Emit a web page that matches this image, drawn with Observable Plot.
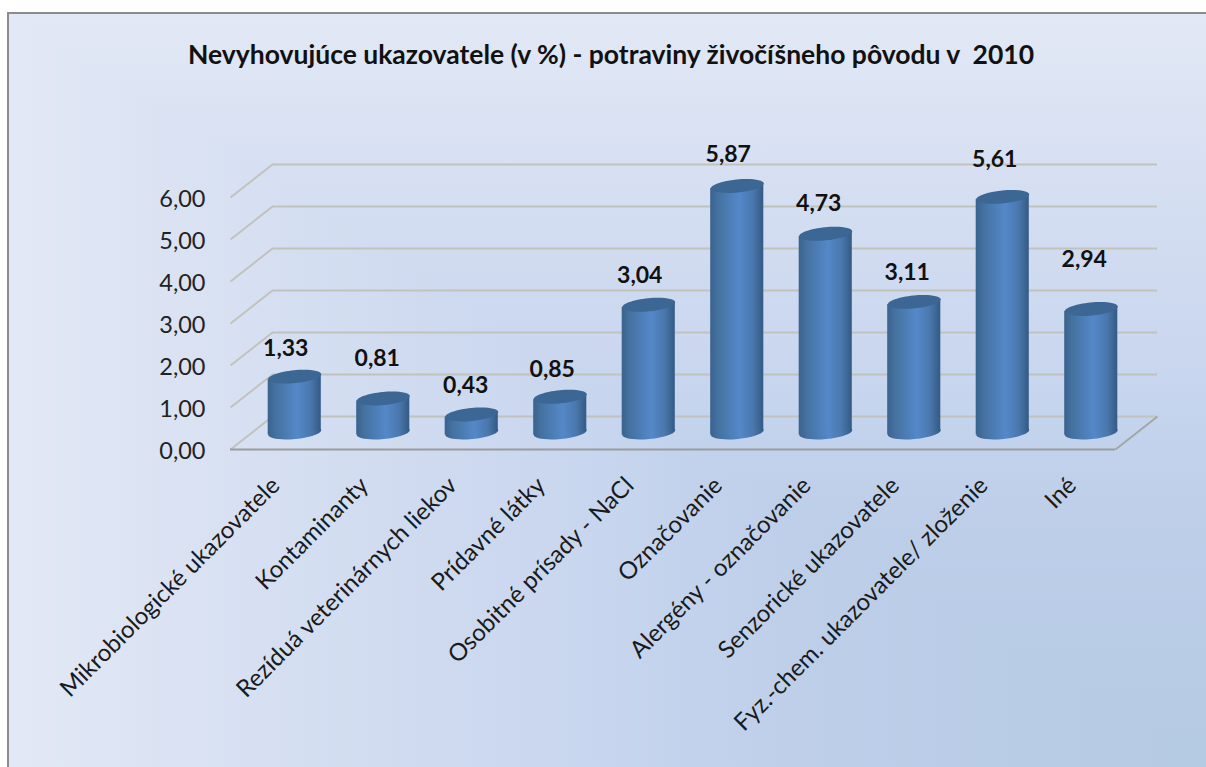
<!DOCTYPE html>
<html lang="sk">
<head>
<meta charset="utf-8">
<title>Nevyhovujúce ukazovatele</title>
<script src="https://cdn.jsdelivr.net/npm/d3@7"></script>
<script src="https://cdn.jsdelivr.net/npm/@observablehq/plot@0.6"></script>
<style>
  html, body { margin: 0; padding: 0; background: #fff; overflow: hidden; }
  #frame { position: absolute; left: 7px; top: 12px; width: 1199px; height: 755px; box-sizing: border-box;
           border-left: 2px solid #8c8c8c; border-top: 2px solid #8c8c8c;
           background-image:
             linear-gradient(to right, #e2e8f5 0%, #d0dbf0 33%, #c7d5ee 50%, #bdcee9 68%, #b5cae3 100%),
             linear-gradient(to bottom, #e2e8f5 0%, #d0dbf0 33%, #c7d5ee 50%, #bdcee9 68%, #b5cae3 100%);
           background-blend-mode: lighten; }
  #chart { position: absolute; left: 0; top: 0; }
  #chart svg { background: transparent; display: block; }
</style>
</head>
<body>
<div id="frame"></div>
<div id="chart"></div>
<script>
const chartTitle = "Nevyhovujúce ukazovatele (v %) - potraviny živočíšneho pôvodu v  2010";
const categories = ["Mikrobiologické ukazovatele", "Kontaminanty", "Rezíduá veterinárnych liekov", "Prídavné látky", "Osobitné prísady - NaCl", "Označovanie", "Alergény - označovanie", "Senzorické ukazovatele", "Fyz.-chem. ukazovatele/ zloženie", "Iné"];
const values = [1.33, 0.81, 0.43, 0.85, 3.04, 5.87, 4.73, 3.11, 5.61, 2.94];
const yTicks = [0, 1, 2, 3, 4, 5, 6];

// Layout of the mock-3D projection (pixels)
const labelLift = [28, 40, 29, 27, 29, 31, 30, 29, 37, 49];
const labelShift = [-9, -6, -6, -8, -9, -9, -7, -7, -8, -7];
const pxPerCat = 88.5, pxPerUnit = 42;
const depthX = 42 / pxPerCat, depthY = 33 / pxPerUnit;   // depth of the floor
const tilt = 2.6 / pxPerUnit;                            // slope of the cylinder ends

const fmt = d => d.toFixed(2).replace(".", ",");
const rows = categories.map((c, i) => ({c, i, v: values[i]}));
const sides = rows.flatMap(d => [
  {c: d.c, x: d.i + 0.2, y1: -tilt, y2: d.v - tilt},
  {c: d.c, x: d.i + 0.8, y1: tilt, y2: d.v + tilt}
]);

// A cylinder end: an ellipse the width of a bar
const ellipse = {
  draw(ctx) {
    const rx = 26.6, ry = 6.5, k = 0.5523;
    ctx.moveTo(-rx, 0);
    ctx.bezierCurveTo(-rx, -k * ry, -k * rx, -ry, 0, -ry);
    ctx.bezierCurveTo(k * rx, -ry, rx, -k * ry, rx, 0);
    ctx.bezierCurveTo(rx, k * ry, k * rx, ry, 0, ry);
    ctx.bezierCurveTo(-k * rx, ry, -rx, k * ry, -rx, 0);
    ctx.closePath();
  }
};

const defs = () => {
  const d = document.createElementNS("http://www.w3.org/2000/svg", "defs");
  d.innerHTML = `<linearGradient id="cyl" x1="0" x2="1" y1="0" y2="0">
    <stop offset="0" stop-color="#3a628f"/>
    <stop offset="0.14" stop-color="#44719f"/>
    <stop offset="0.55" stop-color="#5488c9"/>
    <stop offset="0.8" stop-color="#4a78ae"/>
    <stop offset="1" stop-color="#345a85"/>
  </linearGradient>`;
  return d;
};

const barDx = 20, barDy = -17;
const font = "Lato, 'Open Sans', sans-serif";

const plot = Plot.plot({
  width: 1206,
  height: 767,
  marginLeft: 230,
  marginRight: 91,
  marginTop: 197,
  marginBottom: 318,
  x: {domain: [0, 10], axis: null},
  y: {domain: [0, 6], label: null},
  style: {fontFamily: font, background: "transparent", overflow: "visible"},
  marks: [
    defs,
    // back wall
    Plot.ruleY(yTicks, {dx: 42, dy: -33, stroke: "#c2c2bd", strokeWidth: 2}),
    // side wall diagonals
    Plot.link(yTicks, {x1: () => 0, x2: () => depthX, y1: d => d, y2: d => d + depthY, stroke: "#c2c2bd", strokeWidth: 2}),
    // floor
    Plot.link([0], {x1: () => 10, x2: () => 10 + depthX, y1: () => 0, y2: () => depthY, stroke: "#a3a6a8", strokeWidth: 2}),
    Plot.ruleY([0], {stroke: "#9a9c9e", strokeWidth: 2}),
    // axis
    Plot.axisY({ticks: yTicks, tickFormat: fmt, tickSize: 0, tickPadding: 25, fontSize: 23.5, fill: "#222", label: null, dy: 2}),
    // cylinders
    Plot.dot(rows, {x: d => d.i + 0.5, y: () => 0, symbol: ellipse, r: 5, rotate: -5.6, fill: "url(#cyl)", stroke: "none", dx: barDx, dy: barDy}),
    Plot.areaY(sides, {x: "x", y1: "y1", y2: "y2", z: "c", fill: "url(#cyl)", dx: barDx, dy: barDy}),
    Plot.dot(rows, {x: d => d.i + 0.5, y: "v", symbol: ellipse, r: 5, rotate: -5.6, fill: "#3c6694", stroke: "none", dx: barDx, dy: barDy}),
    // value labels
    Plot.text(rows, {x: d => d.i + 0.5 + (barDx + labelShift[d.i]) / pxPerCat, y: d => d.v + (labelLift[d.i] - barDy) / pxPerUnit, text: d => fmt(d.v), fontSize: 23, fontWeight: 700, fill: "#111"}),
    // category labels
    Plot.text(rows, {x: d => d.i + 0.5, y: () => 0, text: "c", rotate: -45, textAnchor: "end", fontSize: 24, fill: "#1a1a1a", dx: 1, dy: 32}),
    // title
    Plot.text([chartTitle], {frameAnchor: "top", dx: -62, dy: -152, fontSize: 26.5, fontWeight: 700, fill: "#111"})
  ]
});
document.getElementById("chart").append(plot);
</script>
</body>
</html>
